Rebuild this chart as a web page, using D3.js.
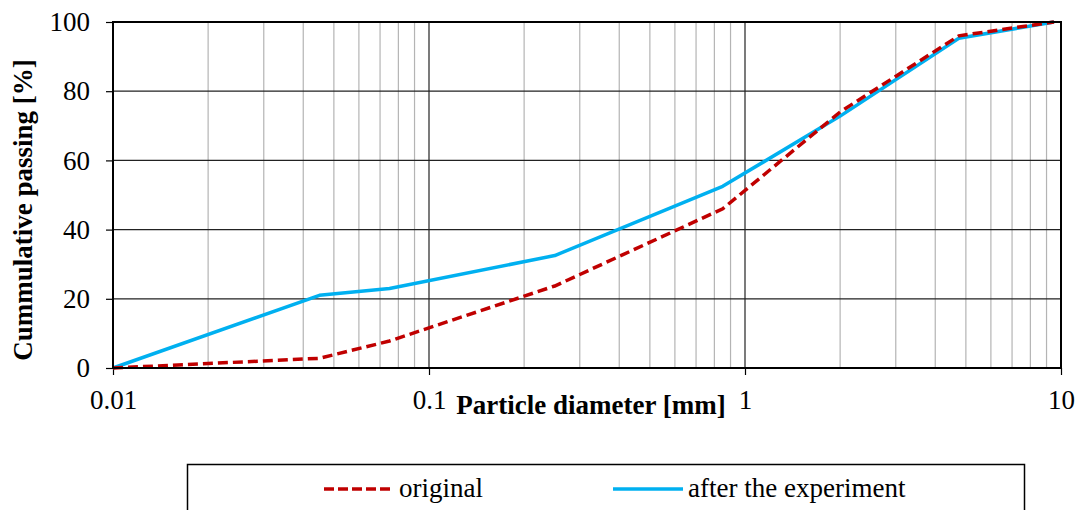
<!DOCTYPE html>
<html>
<head>
<meta charset="utf-8">
<script src="https://cdn.jsdelivr.net/npm/d3@7"></script>
<style>
  body { margin: 0; background: #fff; }
  svg text { font-family: "Liberation Serif", "Times New Roman", serif; }
</style>
</head>
<body>
<svg id="chart" width="1078" height="510"></svg>
<script>
// sieve sizes [mm] and cumulative passing [%]
const sizes = [0.01, 0.045, 0.075, 0.25, 0.85, 2, 4.75, 9.5];
const original = [0, 2.8, 7.8, 23.7, 46, 74, 96, 100];
const afterExp = [0, 21, 23, 32.5, 52.5, 72.8, 95.3, 100];
const xTicks = [0.01, 0.1, 1, 10];
const yTicks = [0, 20, 40, 60, 80, 100];

const margin = { top: 22, right: 17, bottom: 142, left: 113 };
const width = 1078 - margin.left - margin.right;
const height = 510 - margin.top - margin.bottom;
const fs = 27;
const serif = "Liberation Serif";

const svg = d3.select("#chart");
const g = svg.append("g").attr("transform", `translate(${margin.left},${margin.top})`);

const x = d3.scaleLog().domain([0.01, 10]).range([0, width]);
const y = d3.scaleLinear().domain([0, 100]).range([height, 0]);

// minor vertical grid
let minor = [];
for (let dec = 0.01; dec < 10; dec *= 10) {
  for (let k = 2; k <= 9; k++) minor.push(dec * k);
}
g.selectAll("line.minor").data(minor).join("line")
  .attr("class", "minor")
  .attr("x1", d => x(d)).attr("x2", d => x(d))
  .attr("y1", 0).attr("y2", height)
  .attr("stroke", "#b4b4b4").attr("stroke-width", 1.2);

// major grid
g.selectAll("line.vmajor").data(xTicks.slice(1, -1)).join("line")
  .attr("class", "vmajor")
  .attr("x1", d => x(d)).attr("x2", d => x(d))
  .attr("y1", 0).attr("y2", height)
  .attr("stroke", "#222").attr("stroke-width", 1.2);
g.selectAll("line.hmajor").data(yTicks.slice(1, -1)).join("line")
  .attr("class", "hmajor")
  .attr("x1", 0).attr("x2", width)
  .attr("y1", d => y(d)).attr("y2", d => y(d))
  .attr("stroke", "#222").attr("stroke-width", 1.2);

// axes
const xAxis = g.append("g").attr("transform", `translate(0,${height})`)
  .call(d3.axisBottom(x).tickValues(xTicks).tickFormat(d3.format("~g")).tickSizeOuter(0).tickSize(7).tickPadding(15));
const yAxis = g.append("g")
  .call(d3.axisLeft(y).tickValues(yTicks).tickSizeOuter(0).tickSize(7).tickPadding(16));
[xAxis, yAxis].forEach(a => {
  a.attr("font-size", fs).attr("font-family", serif);
  a.select(".domain").remove();
  a.selectAll("line").attr("stroke", "#000").attr("stroke-width", 1.2);
  a.selectAll("text").attr("fill", "#000").attr("font-family", serif);
});

// lines
const line = d3.line().x(d => x(d[0])).y(d => y(d[1]));
g.append("path").datum(sizes.map((s, i) => [s, afterExp[i]]))
  .attr("d", line).attr("fill", "none")
  .attr("stroke", "#00b0f0").attr("stroke-width", 3.5).attr("stroke-linejoin", "round");
g.append("path").datum(sizes.map((s, i) => [s, original[i]]))
  .attr("d", line).attr("fill", "none")
  .attr("stroke", "#c00000").attr("stroke-width", 3.5)
  .attr("stroke-dasharray", "10,5");

// plot border
g.append("rect").attr("width", width).attr("height", height)
  .attr("fill", "none").attr("stroke", "#000").attr("stroke-width", 2);

// axis titles
svg.append("text")
  .attr("x", 591).attr("y", 414)
  .attr("text-anchor", "middle").attr("font-family", serif)
  .attr("font-size", fs).attr("font-weight", "bold")
  .text("Particle diameter [mm]");
svg.append("text")
  .attr("transform", `translate(32,210) rotate(-90)`)
  .attr("text-anchor", "middle").attr("font-family", serif)
  .attr("font-size", fs).attr("font-weight", "bold")
  .text("Cummulative passing [%]");

// legend
const legend = svg.append("g");
legend.append("rect").attr("x", 187.5).attr("y", 464.5).attr("width", 837).attr("height", 60)
  .attr("fill", "#fff").attr("stroke", "#000").attr("stroke-width", 1.5);
const items = [
  { name: "original", color: "#c00000", dash: "10,4", x0: 324 },
  { name: "after the experiment", color: "#00b0f0", dash: null, x0: 613 }
];
items.forEach(it => {
  legend.append("line")
    .attr("x1", it.x0).attr("x2", it.x0 + 70).attr("y1", 489).attr("y2", 489)
    .attr("stroke", it.color).attr("stroke-width", 3.5)
    .attr("stroke-dasharray", it.dash);
  legend.append("text")
    .attr("x", it.x0 + 75).attr("y", 497)
    .attr("font-family", serif)
    .attr("font-size", fs).text(it.name);
});
</script>
</body>
</html>
